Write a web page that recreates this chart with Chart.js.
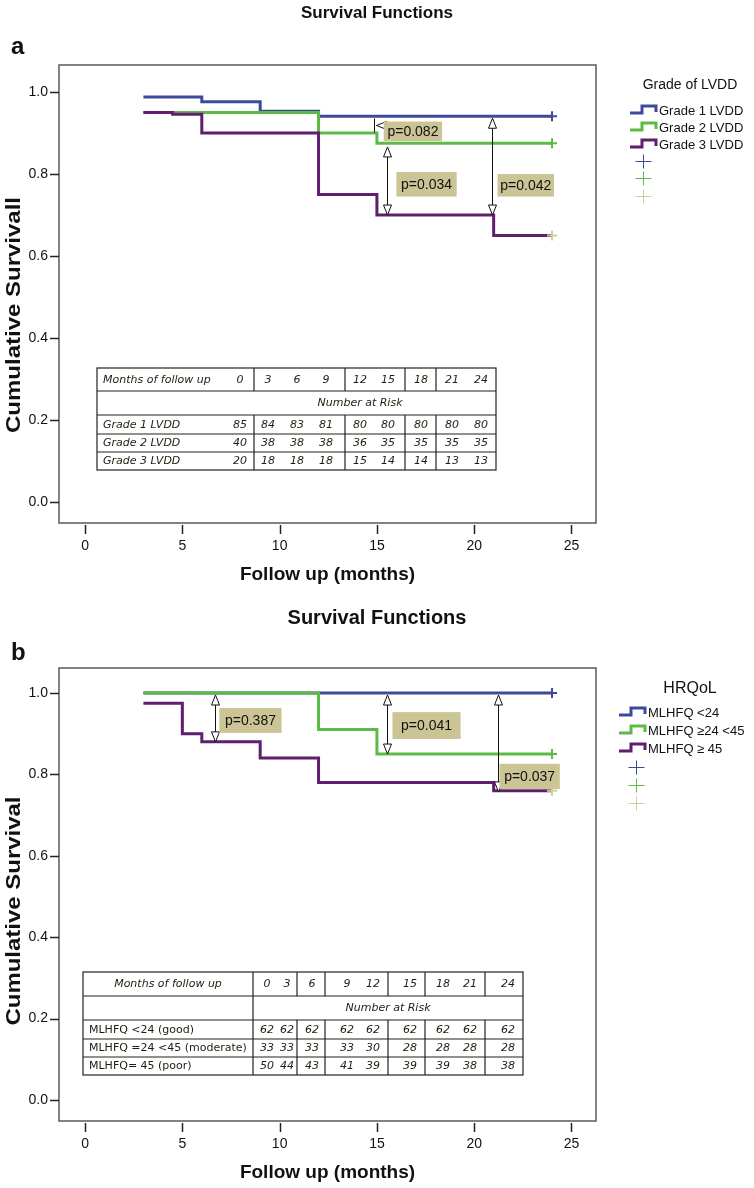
<!DOCTYPE html>
<html>
<head>
<meta charset="utf-8">
<script src="https://cdn.jsdelivr.net/npm/chart.js@4.4.1/dist/chart.umd.min.js"></script>
<style>
  html, body { margin: 0; padding: 0; background: #fff; }
  #wrap { position: relative; width: 754px; height: 1188px; overflow: hidden; }
  canvas { position: absolute; left: 0; }
</style>
</head>
<body>
<div id="wrap">
  <canvas id="chartA" width="754" height="598" style="top:0"></canvas>
  <canvas id="chartB" width="754" height="588" style="top:600px"></canvas>
</div>
<script>
// ---------- data: panel a (grade of LVDD) ----------
const grade1Months = [3, 6, 9, 12, 24];
const grade1Surv = [0.988, 0.976, 0.953, 0.941, 0.941];
const grade2Months = [3, 12, 15, 24];
const grade2Surv = [0.95, 0.90, 0.875, 0.875];
const grade3Months = [3, 4.5, 6, 12, 15, 21, 24];
const grade3Surv = [0.95, 0.946, 0.90, 0.75, 0.70, 0.65, 0.65];
const gradeLabels = ['Grade 1 LVDD', 'Grade 2 LVDD', 'Grade 3 LVDD'];
const pValuesA = ['p=0.082', 'p=0.034', 'p=0.042'];

const riskMonths = [0, 3, 6, 9, 12, 15, 18, 21, 24];
const riskGrade1 = [85, 84, 83, 81, 80, 80, 80, 80, 80];
const riskGrade2 = [40, 38, 38, 38, 36, 35, 35, 35, 35];
const riskGrade3 = [20, 18, 18, 18, 15, 14, 14, 13, 13];

// ---------- data: panel b (HRQoL) ----------
const goodMonths = [3, 24];
const goodSurv = [1.0, 1.0];
const moderateMonths = [3, 12, 15, 24];
const moderateSurv = [1.0, 0.91, 0.85, 0.85];
const poorMonths = [3, 5, 6, 9, 12, 21, 24];
const poorSurv = [0.975, 0.90, 0.88, 0.84, 0.78, 0.76, 0.76];
const hrqolLabels = ['MLHFQ <24', 'MLHFQ \u226524 <45', 'MLHFQ \u2265 45'];
const pValuesB = ['p=0.387', 'p=0.041', 'p=0.037'];

const riskRowLabelsB = ['MLHFQ <24 (good)', 'MLHFQ =24 <45 (moderate)', 'MLHFQ= 45 (poor)'];
const riskGood = [62, 62, 62, 62, 62, 62, 62, 62, 62];
const riskModerate = [33, 33, 33, 33, 30, 28, 28, 28, 28];
const riskPoor = [50, 44, 43, 41, 39, 39, 39, 38, 38];

const xTicks = [0, 5, 10, 15, 20, 25];
const yTicks = [0, 0.2, 0.4, 0.6, 0.8, 1.0];

// colours
const BLUE = '#3d4a9c', GREEN = '#5cbb46', PURPLE = '#5f1e6e', TAN = '#d2cd9f';
const BOX = '#cbc596';
const FONT = '"Liberation Sans", Arial, sans-serif';

Chart.defaults.font.family = FONT;
Chart.defaults.color = '#111';

function line(ctx, x1, y1, x2, y2) {
  ctx.beginPath();
  ctx.moveTo(x1, y1);
  ctx.lineTo(x2, y2);
  ctx.stroke();
}

// open triangle arrow head, apex at (x, y)
function head(ctx, x, y, dir) {
  ctx.beginPath();
  ctx.moveTo(x, y);
  if (dir === 'up') { ctx.lineTo(x - 4, y + 10); ctx.lineTo(x + 4, y + 10); }
  else if (dir === 'down') { ctx.lineTo(x - 4, y - 10); ctx.lineTo(x + 4, y - 10); }
  else { ctx.lineTo(x + 10, y - 4); ctx.lineTo(x + 10, y + 4); }
  ctx.closePath();
  ctx.fillStyle = '#fff';
  ctx.fill();
  ctx.stroke();
}

function drawAnnotations(chart, cfg) {
  const { ctx, scales: { x, y } } = chart;
  ctx.save();
  ctx.strokeStyle = '#111';
  ctx.lineWidth = 1;
  cfg.arrows.forEach(a => {
    const px = Math.round(x.getPixelForValue(a.t)) + 0.5;
    if (a.dir === 'left') {
      const py = Math.round(y.getPixelForValue(a.v)) + 0.5;
      const px2 = x.getPixelForValue(a.t2);
      line(ctx, px, py - 7, px, py + 7);
      line(ctx, px + 2, py, px2, py);
      head(ctx, px + 2, py, 'left');
    } else {
      const y0 = y.getPixelForValue(a.v0), y1 = y.getPixelForValue(a.v1);
      line(ctx, px, y0, px, y1);
      head(ctx, px, y0, 'up');
      head(ctx, px, y1, 'down');
    }
  });
  ctx.font = '14px ' + FONT;
  ctx.textAlign = 'center';
  ctx.textBaseline = 'middle';
  cfg.boxes.forEach((b, i) => {
    const l = x.getPixelForValue(b.t0), r = x.getPixelForValue(b.t1);
    const t = y.getPixelForValue(b.v0), btm = y.getPixelForValue(b.v1);
    ctx.fillStyle = BOX;
    ctx.fillRect(l, t, r - l, btm - t);
    ctx.fillStyle = '#111';
    ctx.fillText(cfg.pValues[i], (l + r) / 2, (t + btm) / 2 + 1);
  });
  ctx.restore();
}

function drawTable(ctx, tb) {
  ctx.save();
  ctx.strokeStyle = '#222';
  ctx.lineWidth = 1.2;
  const rows = tb.rows, top = rows[0], bottom = rows[rows.length - 1];
  ctx.strokeRect(tb.left, top, tb.right - tb.left, bottom - top);
  for (let r = 1; r < rows.length - 1; r++) line(ctx, tb.left, rows[r], tb.right, rows[r]);
  for (let r = 0; r < rows.length - 1; r++) {
    const divs = r === 1 ? tb.riskRowDividers : tb.dividers;
    divs.forEach(dx => line(ctx, dx, rows[r], dx, rows[r + 1]));
  }
  ctx.fillStyle = '#1e1e10';
  ctx.textBaseline = 'middle';
  const mid = r => (rows[r] + rows[r + 1]) / 2 + 0.5;
  const ital = 'italic 11px "DejaVu Sans", sans-serif';
  const reg = '11px "DejaVu Sans", sans-serif';
  // header row
  ctx.font = ital;
  ctx.textAlign = tb.headerAlign;
  ctx.fillText('Months of follow up', tb.headerX, mid(0));
  ctx.textAlign = 'center';
  riskMonths.forEach((m, i) => ctx.fillText(String(m), tb.colX[i], mid(0)));
  ctx.fillText('Number at Risk', tb.riskX, mid(1));
  // data rows
  tb.data.forEach((vals, k) => {
    ctx.font = tb.labelItalic ? ital : reg;
    ctx.textAlign = 'left';
    ctx.fillText(tb.labels[k], tb.left + 6, mid(k + 2));
    ctx.font = ital;
    ctx.textAlign = 'center';
    vals.forEach((v, i) => ctx.fillText(String(v), tb.colX[i], mid(k + 2)));
  });
  ctx.restore();
}

function drawLegend(ctx, lg, series) {
  ctx.save();
  ctx.fillStyle = '#111';
  ctx.textBaseline = 'middle';
  ctx.textAlign = 'center';
  ctx.font = lg.titleSize + 'px ' + FONT;
  ctx.fillText(lg.title, lg.titleX, lg.titleY);
  ctx.textAlign = 'left';
  ctx.font = lg.itemSize + 'px ' + FONT;
  series.forEach((s, i) => {
    const yy = lg.itemY[i], x0 = lg.iconX;
    ctx.strokeStyle = s.color;
    ctx.lineWidth = 3;
    ctx.beginPath();
    ctx.moveTo(x0, yy + 3);
    ctx.lineTo(x0 + 12, yy + 3);
    ctx.lineTo(x0 + 12, yy - 4);
    ctx.lineTo(x0 + 26, yy - 4);
    ctx.lineTo(x0 + 26, yy + 2);
    ctx.stroke();
    ctx.fillStyle = '#111';
    ctx.fillText(s.label, lg.textX, yy + 1);
  });
  series.forEach((s, i) => {
    const yy = lg.crossY[i] + 0.5, cx = lg.crossX + 0.5;
    ctx.strokeStyle = s.censorColor;
    ctx.lineWidth = 1;
    line(ctx, cx - 8, yy, cx + 8, yy);
    line(ctx, cx, yy - 7, cx, yy + 7);
  });
  ctx.restore();
}

// rotated, slightly widened axis title (SPSS style)
function drawYTitle(ctx, cfg) {
  ctx.save();
  ctx.fillStyle = '#111';
  ctx.font = 'bold 20px ' + FONT;
  ctx.textAlign = 'center';
  ctx.textBaseline = 'middle';
  const w = ctx.measureText(cfg.yTitle).width;
  ctx.translate(14, cfg.yTitleY);
  ctx.rotate(-Math.PI / 2);
  ctx.scale(cfg.yTitleLen / w, 1);
  ctx.fillText(cfg.yTitle, 0, 0);
  ctx.restore();
}

function makeChart(id, cfg) {
  const datasets = [];
  cfg.series.forEach((s, i) => {
    datasets.push({
      type: 'line',
      label: s.label,
      data: s.months.map((m, k) => ({ x: m, y: s.surv[k] })),
      borderColor: s.color,
      borderWidth: 3,
      stepped: true,
      pointRadius: 0,
      fill: false,
      order: cfg.series.length - i + 1
    });
  });
  cfg.series.forEach(s => {
    const n = s.months.length - 1;
    datasets.push({
      type: 'scatter',
      label: s.label + ' censored',
      data: [{ x: s.months[n], y: s.surv[n] }],
      pointStyle: 'cross',
      pointRadius: 5,
      borderWidth: 2,
      borderColor: s.censorColor,
      order: 0
    });
  });

  return new Chart(document.getElementById(id), {
    type: 'line',
    data: { datasets },
    options: {
      responsive: false,
      animation: false,
      devicePixelRatio: 1,
      plugins: {
        legend: { display: false },
        tooltip: { enabled: false },
        title: {
          display: true,
          text: 'Survival Functions',
          color: '#111',
          font: { size: cfg.titleSize, weight: 'bold' },
          padding: cfg.titlePad
        }
      },
      scales: {
        x: {
          type: 'linear',
          min: -1.34,
          max: 26.26,
          afterBuildTicks: s => { s.ticks = xTicks.map(v => ({ value: v })); },
          afterFit: s => { s.height = cfg.xAxisHeight; },
          grid: { display: false, drawTicks: false },
          border: { display: false },
          ticks: { padding: 15, color: '#111', font: { size: 14 }, callback: v => String(v) },
          title: {
            display: true,
            text: 'Follow up (months)',
            color: '#111',
            font: { size: 19, weight: 'bold' },
            padding: { top: 0, bottom: cfg.xTitlePad }
          }
        },
        y: {
          type: 'linear',
          min: cfg.yMin,
          max: cfg.yMax,
          afterBuildTicks: s => { s.ticks = yTicks.map(v => ({ value: v })); },
          afterFit: s => { s.width = 59; },
          grid: { display: false, drawTicks: false },
          border: { display: false },
          ticks: { padding: 11, color: '#111', font: { size: 14 }, callback: v => v.toFixed(1) }
        },
        // empty right-hand strip that holds the legend area
        legendSpace: {
          type: 'linear',
          position: 'right',
          grid: { display: false, drawTicks: false },
          border: { display: false },
          ticks: { display: false },
          afterFit: s => { s.width = 754 - 596; }
        }
      }
    },
    plugins: [{
      id: 'survivalExtras',
      afterDatasetsDraw(chart) {
        drawAnnotations(chart, cfg);
      },
      afterDraw(chart) {
        const { ctx, chartArea: a, scales: { x, y } } = chart;
        ctx.save();
        // plot frame
        ctx.strokeStyle = '#5a5a5a';
        ctx.lineWidth = 1.5;
        ctx.strokeRect(a.left, a.top, a.right - a.left, a.bottom - a.top);
        // tick marks
        ctx.strokeStyle = '#222';
        ctx.lineWidth = 1.5;
        yTicks.forEach(v => {
          const py = Math.round(y.getPixelForValue(v)) + 0.5;
          line(ctx, a.left - 9, py, a.left, py);
        });
        xTicks.forEach(v => {
          const px = Math.round(x.getPixelForValue(v)) + 0.5;
          line(ctx, px, a.bottom + 2, px, a.bottom + 11);
        });
        // panel letter
        ctx.fillStyle = '#111';
        ctx.font = 'bold 24px ' + FONT;
        ctx.textAlign = 'left';
        ctx.textBaseline = 'middle';
        ctx.fillText(cfg.letter, 11, cfg.letterY);
        ctx.restore();
        drawYTitle(ctx, cfg);
        drawLegend(ctx, cfg.legend, cfg.series);
        drawTable(ctx, cfg.table);
      }
    }]
  });
}

// ---------- panel a ----------
makeChart('chartA', {
  letter: 'a',
  letterY: 47,
  titleSize: 17,
  titlePad: { top: 3, bottom: 41.6 },
  xAxisHeight: 75,
  xTitlePad: 11.6,
  yMin: -0.0512,
  yMax: 1.0659,
  yTitle: 'Cumulative Survivall',
  yTitleY: 315,
  yTitleLen: 236,
  series: [
    { label: gradeLabels[0], months: grade1Months, surv: grade1Surv, color: BLUE, censorColor: BLUE },
    { label: gradeLabels[1], months: grade2Months, surv: grade2Surv, color: GREEN, censorColor: GREEN },
    { label: gradeLabels[2], months: grade3Months, surv: grade3Surv, color: PURPLE, censorColor: TAN }
  ],
  pValues: pValuesA,
  arrows: [
    { dir: 'left', t: 14.85, t2: 15.7, v: 0.92 },
    { dir: 'both', t: 15.5, v0: 0.866, v1: 0.70 },
    { dir: 'both', t: 20.9, v0: 0.936, v1: 0.70 }
  ],
  boxes: [
    { t0: 15.35, t1: 18.35, v0: 0.928, v1: 0.880 },
    { t0: 16.0, t1: 19.1, v0: 0.805, v1: 0.745 },
    { t0: 21.2, t1: 24.1, v0: 0.800, v1: 0.745 }
  ],
  legend: {
    title: 'Grade of LVDD', titleSize: 14, titleX: 690, titleY: 85,
    itemSize: 13, iconX: 630, textX: 659, itemY: [110, 127, 144],
    crossX: 643, crossY: [161, 178, 196]
  },
  table: {
    left: 97, right: 496,
    rows: [368, 391, 415, 434, 452, 470],
    dividers: [254, 345, 405, 436],
    riskRowDividers: [],
    colX: [240, 268, 297, 326, 360, 388, 421, 452, 481],
    headerAlign: 'left', headerX: 103,
    riskX: 360,
    labels: gradeLabels,
    labelItalic: true,
    data: [riskGrade1, riskGrade2, riskGrade3]
  }
});

// ---------- panel b ----------
makeChart('chartB', {
  letter: 'b',
  letterY: 53,
  titleSize: 20,
  titlePad: { top: 6, bottom: 38 },
  xAxisHeight: 67,
  xTitlePad: 3.6,
  yMin: -0.0516,
  yMax: 1.0614,
  yTitle: 'Cumulative Survival',
  yTitleY: 311,
  yTitleLen: 229,
  series: [
    { label: hrqolLabels[0], months: goodMonths, surv: goodSurv, color: BLUE, censorColor: BLUE },
    { label: hrqolLabels[1], months: moderateMonths, surv: moderateSurv, color: GREEN, censorColor: GREEN },
    { label: hrqolLabels[2], months: poorMonths, surv: poorSurv, color: PURPLE, censorColor: TAN }
  ],
  pValues: pValuesB,
  arrows: [
    { dir: 'both', t: 6.7, v0: 0.995, v1: 0.88 },
    { dir: 'both', t: 15.5, v0: 0.995, v1: 0.85 },
    { dir: 'both', t: 21.2, v0: 0.995, v1: 0.757 }
  ],
  boxes: [
    { t0: 6.9, t1: 10.1, v0: 0.963, v1: 0.902 },
    { t0: 15.8, t1: 19.3, v0: 0.953, v1: 0.887 },
    { t0: 21.3, t1: 24.4, v0: 0.826, v1: 0.764 }
  ],
  legend: {
    title: 'HRQoL', titleSize: 16, titleX: 690, titleY: 89,
    itemSize: 13, iconX: 619, textX: 648, itemY: [112, 130, 148],
    crossX: 636, crossY: [167, 185, 203]
  },
  table: {
    left: 83, right: 523,
    rows: [372, 396, 420, 439, 457, 475],
    dividers: [253, 297, 325, 388, 425, 485],
    riskRowDividers: [253],
    colX: [267, 287, 312, 347, 373, 410, 443, 470, 508],
    headerAlign: 'center', headerX: 168,
    riskX: 388,
    labels: riskRowLabelsB,
    labelItalic: false,
    data: [riskGood, riskModerate, riskPoor]
  }
});
</script>
</body>
</html>
